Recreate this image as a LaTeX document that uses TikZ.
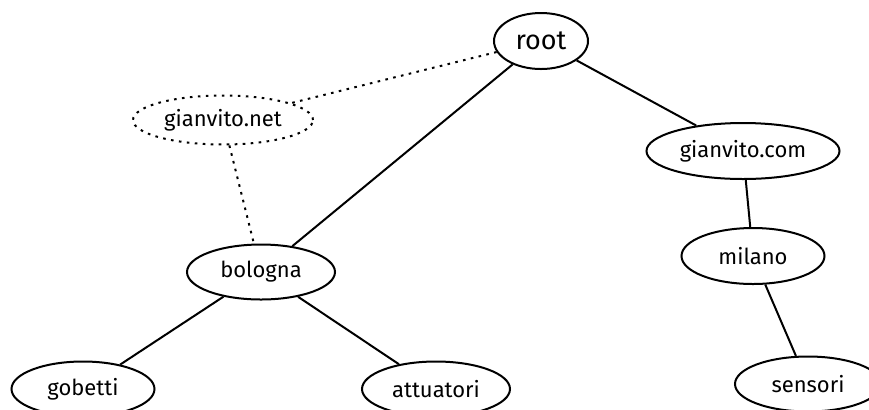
\documentclass[tikz,border=0pt]{standalone}
\usepackage{fontspec}
\setmainfont{Fira Sans}
\usetikzlibrary{shapes.geometric}
\begin{document}
\begin{tikzpicture}[x=0.5pt,y=-0.5pt,
  host/.style={ellipse,draw,line width=1pt,inner sep=0pt,
    font=\fontsize{11}{13}\selectfont},
  alias/.style={host,dash pattern=on 1.3pt off 2.7pt},
  link/.style={line width=1pt},
  aliaslink/.style={line width=1pt,dash pattern=on 1.3pt off 2.7pt}]
\useasboundingbox (0,0) rectangle (869,409);
\clip (0,0) rectangle (869,409);
% tree nodes
\node[host,minimum width=47pt,minimum height=28pt,
      font=\fontsize{13.5}{16}\selectfont] (root) at (541,41) {root};
\node[alias,minimum width=90pt,minimum height=24.5pt] (net) at (223,120) {gianvito.net};
\node[host,minimum width=96.5pt,minimum height=28pt] (com) at (743,151) {gianvito.com};
\node[host,minimum width=71.5pt,minimum height=28pt] (milano) at (753,256) {milano};
\node[host,minimum width=74pt,minimum height=27.5pt] (bologna) at (261,272) {bologna};
\node[host,minimum width=71.5pt,minimum height=27.5pt] (gobetti) at (83,389) {gobetti};
\node[host,minimum width=74pt,minimum height=27.5pt] (attuatori) at (436,389) {attuatori};
\node[host,minimum width=73pt,minimum height=27.5pt] (sensori) at (808,384) {sensori};
% connectors
\draw[link] (root) -- (bologna);
\draw[link] (root) -- (com);
\draw[link] (com) -- (milano);
\draw[link] (milano) -- (sensori);
\draw[link] (bologna) -- (gobetti);
\draw[link] (bologna) -- (attuatori);
\draw[aliaslink] (root) -- (net);
\draw[aliaslink] (net) -- (bologna);
\end{tikzpicture}
\end{document}
